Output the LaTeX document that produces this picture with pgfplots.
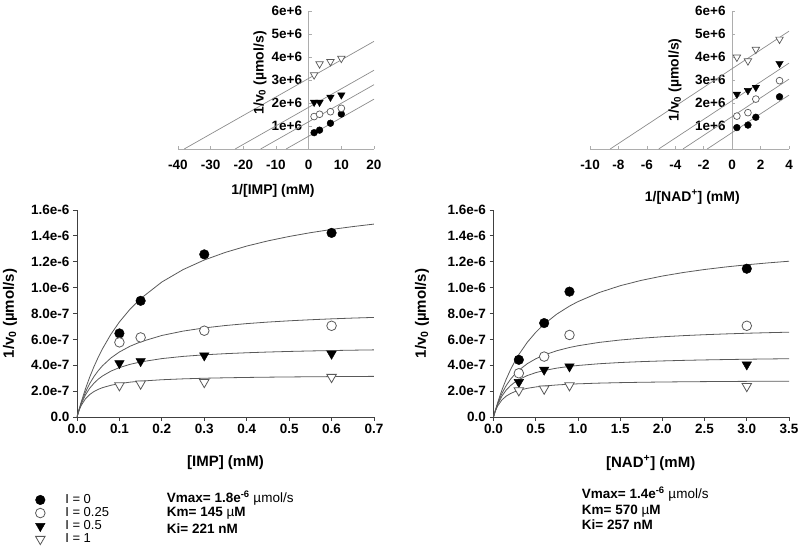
\documentclass[border=0pt]{standalone}
\usepackage{pgfplots}
\pgfplotsset{compat=1.18}
\usepackage{fontspec}
\setmainfont{Liberation Sans}
\definecolor{crv}{gray}{0.35}
\definecolor{ax}{gray}{0.25}
\definecolor{lax}{gray}{0.68}
\definecolor{tl}{gray}{0.55}
\definecolor{mk}{gray}{0.35}
\newcommand{\tf}{\bfseries\fontsize{13.5}{15}\selectfont}
\pgfplotsset{
  fcb/.style={only marks, mark=*, mark size=4.8pt, mark options={fill=black, draw=black}},
  ocb/.style={only marks, mark=*, mark size=4.8pt, mark options={fill=white, draw=mk, line width=0.8pt}},
  ftb/.style={only marks, mark=triangle*, mark size=5.5pt, mark options={rotate=180, fill=black, draw=black}},
  otb/.style={only marks, mark=triangle*, mark size=5.5pt, mark options={rotate=180, fill=white, draw=mk, line width=0.8pt}},
  fcs/.style={only marks, mark=*, mark size=3.4pt, mark options={fill=black, draw=black}},
  ocs/.style={only marks, mark=*, mark size=3.4pt, mark options={fill=white, draw=mk, line width=0.7pt}},
  fts/.style={only marks, mark=triangle*, mark size=4.3pt, mark options={rotate=180, fill=black, draw=black}},
  ots/.style={only marks, mark=triangle*, mark size=4.3pt, mark options={rotate=180, fill=white, draw=mk, line width=0.7pt}},
  curve/.style={no marks, crv, line width=0.8pt, forget plot},
  tline/.style={no marks, tl, line width=0.7pt, forget plot},
  botax/.style={
    scale only axis, anchor=south west, width=297pt, height=207pt,
    ymin=0, ymax=1.6e-6,
    axis x line=bottom, axis y line=left,
    every outer x axis line/.append style={-}, every outer y axis line/.append style={-},
    every inner x axis line/.append style={-}, every inner y axis line/.append style={-},
    axis line style={ax, line width=0.8pt},
    tick align=outside, major tick length=4pt, tick style={ax, line width=0.8pt},
    ytick={0,2e-7,4e-7,6e-7,8e-7,1e-6,1.2e-6,1.4e-6,1.6e-6},
    yticklabels={0.0,2.0e-7,4.0e-7,6.0e-7,8.0e-7,1.0e-6,1.2e-6,1.4e-6,1.6e-6},
    scaled y ticks=false, scaled x ticks=false,
    ticklabel style={font=\tf},
    label style={font=\bfseries\fontsize{15}{17}\selectfont},
    ylabel={1/v\textsubscript{0} (µmol/s)},
  },
  topax/.style={
    scale only axis, anchor=south west, width=196pt, height=138pt,
    ymin=0, ymax=6e6,
    axis x line=bottom, axis y line=center,
    every outer x axis line/.append style={-}, every outer y axis line/.append style={-},
    every inner x axis line/.append style={-}, every inner y axis line/.append style={-},
    axis line style={lax, line width=0.7pt},
    tick align=inside, major tick length=3pt, tick style={lax, line width=0.7pt},
    ytick={1e6,2e6,3e6,4e6,5e6,6e6},
    yticklabels={1e+6,2e+6,3e+6,4e+6,5e+6,6e+6},
    scaled y ticks=false, scaled x ticks=false,
    hide obscured x ticks=false, hide obscured y ticks=false,
    ticklabel style={font=\tf},
    xticklabel style={yshift=-8pt},
    yticklabel style={xshift=-3pt},
    label style={font=\bfseries\fontsize{14}{16}\selectfont},
    ylabel={1/v\textsubscript{0} (µmol/s)},
    clip=false,
  },
}
\begin{document}
\begin{tikzpicture}[x=1pt,y=1pt]
\useasboundingbox (0,0) rectangle (800,553);

% ---------- bottom left: IMP ----------
\begin{axis}[botax, at={(77pt,136pt)},
  xmin=0, xmax=0.7,
  xtick={0,0.1,0.2,0.3,0.4,0.5,0.6,0.7},
  xticklabels={0.0,0.1,0.2,0.3,0.4,0.5,0.6,0.7},
  xlabel={[IMP] (mM)},
  xlabel style={at={(axis description cs:0.5,-0.221)}, anchor=center},
  ylabel style={at={(axis description cs:-0.2256,0.5)}, anchor=center},
  legend style={at={(axis description cs:-0.1545,-0.355)}, anchor=north west,
    draw=none, fill=none, font=\fontsize{13}{15}\selectfont, row sep=-1.5pt,
    legend cell align=left},
  legend image code/.code={\draw[only marks, mark repeat=2, mark phase=2] plot coordinates {(0pt,0pt) (6pt,0pt) (12pt,0pt)}; \path[draw=none, fill=none] (0pt,0pt) -- (29pt,0pt);},
]
\addplot[curve] coordinates {(0,0) (0.005,0.06e-6) (0.01,0.1161e-6) (0.02,0.2182e-6) (0.03,0.3086e-6) (0.04,0.3892e-6) (0.05,0.4615e-6) (0.06,0.5268e-6) (0.08,0.64e-6) (0.1,0.7347e-6) (0.125,0.8333e-6) (0.15,0.9153e-6) (0.2,1.0435e-6) (0.25,1.1392e-6) (0.3,1.2135e-6) (0.35,1.2727e-6) (0.4,1.3211e-6) (0.45,1.3613e-6) (0.5,1.3953e-6) (0.55,1.4245e-6) (0.6,1.4497e-6) (0.65,1.4717e-6) (0.7,1.4911e-6)};
\addplot[curve] coordinates {(0,0) (0.005,0.05782e-6) (0.01,0.10823e-6) (0.02,0.19187e-6) (0.03,0.25845e-6) (0.04,0.31271e-6) (0.05,0.35777e-6) (0.06,0.39579e-6) (0.08,0.45642e-6) (0.1,0.50263e-6) (0.125,0.54691e-6) (0.15,0.58104e-6) (0.2,0.63021e-6) (0.25,0.66391e-6) (0.3,0.68846e-6) (0.35,0.70713e-6) (0.4,0.72182e-6) (0.45,0.73367e-6) (0.5,0.74343e-6) (0.55,0.75162e-6) (0.6,0.75858e-6) (0.65,0.76457e-6) (0.7,0.76977e-6)};
\addplot[curve] coordinates {(0,0) (0.005,0.05579e-6) (0.01,0.10134e-6) (0.02,0.17123e-6) (0.03,0.22234e-6) (0.04,0.26135e-6) (0.05,0.29209e-6) (0.06,0.31696e-6) (0.08,0.35469e-6) (0.1,0.38197e-6) (0.125,0.40702e-6) (0.15,0.42563e-6) (0.2,0.45142e-6) (0.25,0.46846e-6) (0.3,0.48055e-6) (0.35,0.48957e-6) (0.4,0.49656e-6) (0.45,0.50214e-6) (0.5,0.5067e-6) (0.55,0.51049e-6) (0.6,0.51369e-6) (0.65,0.51643e-6) (0.7,0.51881e-6)};
\addplot[curve] coordinates {(0,0) (0.005,0.05214e-6) (0.01,0.08989e-6) (0.02,0.1409e-6) (0.03,0.17378e-6) (0.04,0.19672e-6) (0.05,0.21365e-6) (0.06,0.22666e-6) (0.08,0.24532e-6) (0.1,0.25807e-6) (0.125,0.26926e-6) (0.15,0.27728e-6) (0.2,0.288e-6) (0.25,0.29485e-6) (0.3,0.29959e-6) (0.35,0.30307e-6) (0.4,0.30574e-6) (0.45,0.30785e-6) (0.5,0.30955e-6) (0.55,0.31096e-6) (0.6,0.31214e-6) (0.65,0.31315e-6) (0.7,0.31403e-6)};
\addplot[fcb] coordinates {(0.1,6.46e-7) (0.15,8.98e-7) (0.3,1.257e-6) (0.6,1.423e-6)};
\addlegendentry{I = 0}
\addplot[ocb] coordinates {(0.1,5.77e-7) (0.15,6.15e-7) (0.3,6.67e-7) (0.6,7.05e-7)};
\addlegendentry{I = 0.25}
\addplot[ftb] coordinates {(0.1,4.15e-7) (0.15,4.31e-7) (0.3,4.75e-7) (0.6,4.88e-7)};
\addlegendentry{I = 0.5}
\addplot[otb] coordinates {(0.1,2.44e-7) (0.15,2.57e-7) (0.3,2.69e-7) (0.6,3.08e-7)};
\addlegendentry{I = 1}
\end{axis}

% ---------- bottom right: NAD+ ----------
\begin{axis}[botax, at={(493.5pt,136pt)}, width=295.5pt,
  xmin=0, xmax=3.5,
  xtick={0,0.5,1,1.5,2,2.5,3,3.5},
  xticklabels={0.0,0.5,1.0,1.5,2.0,2.5,3.0,3.5},
  xlabel={[NAD\textsuperscript{+}] (mM)},
  xlabel style={at={(axis description cs:0.532,-0.222)}, anchor=center},
  ylabel style={at={(axis description cs:-0.242,0.5)}, anchor=center},
]
\addplot[curve] coordinates {(0,0) (0.02,0.04746e-6) (0.05,0.1129e-6) (0.1,0.20896e-6) (0.15,0.29167e-6) (0.2,0.36364e-6) (0.25,0.42683e-6) (0.3,0.48276e-6) (0.4,0.57732e-6) (0.5,0.65421e-6) (0.6,0.71795e-6) (0.75,0.79545e-6) (0.9,0.85714e-6) (1.0,0.89172e-6) (1.25,0.96154e-6) (1.5,1.01449e-6) (1.75,1.05603e-6) (2.0,1.08949e-6) (2.25,1.11702e-6) (2.5,1.14007e-6) (2.75,1.15964e-6) (3.0,1.17647e-6) (3.25,1.1911e-6) (3.5,1.20393e-6)};
\addplot[curve] coordinates {(0,0) (0.02,0.04594e-6) (0.05,0.10469e-6) (0.1,0.18246e-6) (0.15,0.24252e-6) (0.2,0.29029e-6) (0.25,0.32919e-6) (0.3,0.3615e-6) (0.4,0.41203e-6) (0.5,0.44976e-6) (0.6,0.47899e-6) (0.75,0.51229e-6) (0.9,0.5372e-6) (1.0,0.55057e-6) (1.25,0.57642e-6) (1.5,0.59504e-6) (1.75,0.60909e-6) (2.0,0.62007e-6) (2.25,0.62889e-6) (2.5,0.63613e-6) (2.75,0.64218e-6) (3.0,0.64731e-6) (3.25,0.65171e-6) (3.5,0.65554e-6)};
\addplot[curve] coordinates {(0,0) (0.02,0.04452e-6) (0.05,0.09759e-6) (0.1,0.16193e-6) (0.15,0.20755e-6) (0.2,0.24157e-6) (0.25,0.26792e-6) (0.3,0.28893e-6) (0.4,0.32033e-6) (0.5,0.34268e-6) (0.6,0.35939e-6) (0.75,0.37782e-6) (0.9,0.39119e-6) (1.0,0.39824e-6) (1.25,0.41158e-6) (1.5,0.42099e-6) (1.75,0.42798e-6) (2.0,0.43337e-6) (2.25,0.43766e-6) (2.5,0.44115e-6) (2.75,0.44405e-6) (3.0,0.4465e-6) (3.25,0.44859e-6) (3.5,0.4504e-6)};
\addplot[curve] coordinates {(0,0) (0.02,0.04193e-6) (0.05,0.08594e-6) (0.1,0.13219e-6) (0.15,0.16108e-6) (0.2,0.18085e-6) (0.25,0.19523e-6) (0.3,0.20615e-6) (0.4,0.22165e-6) (0.5,0.23213e-6) (0.6,0.23968e-6) (0.75,0.24774e-6) (0.9,0.25342e-6) (1.0,0.25636e-6) (1.25,0.26182e-6) (1.5,0.2656e-6) (1.75,0.26836e-6) (2.0,0.27047e-6) (2.25,0.27214e-6) (2.5,0.27348e-6) (2.75,0.2746e-6) (3.0,0.27553e-6) (3.25,0.27633e-6) (3.5,0.27701e-6)};
\addplot[fcb] coordinates {(0.3,4.42e-7) (0.6,7.26e-7) (0.9,9.69e-7) (3.0,1.146e-6)};
\addplot[ocb] coordinates {(0.3,3.38e-7) (0.6,4.67e-7) (0.9,6.34e-7) (3.0,7.05e-7)};
\addplot[ftb] coordinates {(0.3,2.69e-7) (0.6,3.65e-7) (0.9,3.9e-7) (3.0,4.05e-7)};
\addplot[otb] coordinates {(0.3,2.05e-7) (0.6,2.18e-7) (0.9,2.44e-7) (3.0,2.38e-7)};
\end{axis}

% ---------- top left: 1/[IMP] ----------
\begin{axis}[topax, at={(178pt,404pt)},
  xmin=-40, xmax=20,
  xtick={-40,-30,-20,-10,0,10,20},
  xticklabels={-40,-30,-20,-10,0,10,20},
  xlabel={1/[IMP] (mM)},
  xlabel style={at={(axis description cs:0.485,-0.302)}, anchor=center},
  ylabel style={at={(axis description cs:0.418,0.551)}, anchor=center, rotate=90},
]
\addplot[tline] coordinates {(-6.897,0) (20,2166667)};
\addplot[tline] coordinates {(-14.698,0) (20,2795111)};
\addplot[tline] coordinates {(-22.50,0) (20,3423554)};
\addplot[tline] coordinates {(-38.10,0) (20,4680494)};
\addplot[fcs] coordinates {(1.667,0.71e6) (3.333,0.82e6) (6.667,1.12e6) (10,1.52e6)};
\addplot[ocs] coordinates {(1.667,1.41e6) (3.333,1.51e6) (6.667,1.62e6) (10,1.77e6)};
\addplot[fts] coordinates {(1.667,2.03e6) (3.333,2.03e6) (6.667,2.25e6) (10,2.35e6)};
\addplot[ots] coordinates {(1.667,3.22e6) (3.333,3.70e6) (6.667,3.80e6) (10,3.94e6)};
\end{axis}

% ---------- top right: 1/[NAD+] ----------
\begin{axis}[topax, at={(590pt,404pt)}, width=199pt,
  xmin=-10, xmax=4,
  xtick={-10,-8,-6,-4,-2,0,2,4},
  xticklabels={-10,-8,-6,-4,-2,0,2,4},
  xlabel={1/[NAD\textsuperscript{+}] (mM)},
  xlabel style={at={(axis description cs:0.514,-0.348)}, anchor=center},
  ylabel style={at={(axis description cs:0.427,0.5)}, anchor=center, rotate=90},
]
\addplot[tline] coordinates {(-1.7544,0) (4,2342857)};
\addplot[tline] coordinates {(-3.4610,0) (4,3037686)};
\addplot[tline] coordinates {(-5.1676,0) (4,3732522)};
\addplot[tline] coordinates {(-8.5808,0) (4,5122180)};
\addplot[fcs] coordinates {(0.333,0.93e6) (1.111,1.04e6) (1.667,1.38e6) (3.333,2.27e6)};
\addplot[ocs] coordinates {(0.333,1.43e6) (1.111,1.58e6) (1.667,2.17e6) (3.333,2.97e6)};
\addplot[fts] coordinates {(0.333,2.38e6) (1.111,2.54e6) (1.667,2.68e6) (3.333,3.72e6)};
\addplot[ots] coordinates {(0.333,3.99e6) (1.111,3.83e6) (1.667,4.33e6) (3.333,4.77e6)};
\end{axis}

% ---------- kinetic constants ----------
\node[anchor=west, inner sep=0pt, font=\fontsize{13.5}{15}\selectfont] at (166.7,55) {\textbf{Vmax= 1.8e\textsuperscript{-6}} µmol/s};
\node[anchor=west, inner sep=0pt, font=\bfseries\fontsize{13.5}{15}\selectfont] at (166.7,40) {Km= 145 {\mdseries µ}M};
\node[anchor=west, inner sep=0pt, font=\bfseries\fontsize{13.5}{15}\selectfont] at (166.7,24) {Ki= 221 nM};
\node[anchor=west, inner sep=0pt, font=\fontsize{13.5}{15}\selectfont] at (581.7,59) {\textbf{Vmax= 1.4e\textsuperscript{-6}} µmol/s};
\node[anchor=west, inner sep=0pt, font=\bfseries\fontsize{13.5}{15}\selectfont] at (581.7,42) {Km= 570 {\mdseries µ}M};
\node[anchor=west, inner sep=0pt, font=\bfseries\fontsize{13.5}{15}\selectfont] at (581.7,28) {Ki= 257 nM};
\end{tikzpicture}
\end{document}
